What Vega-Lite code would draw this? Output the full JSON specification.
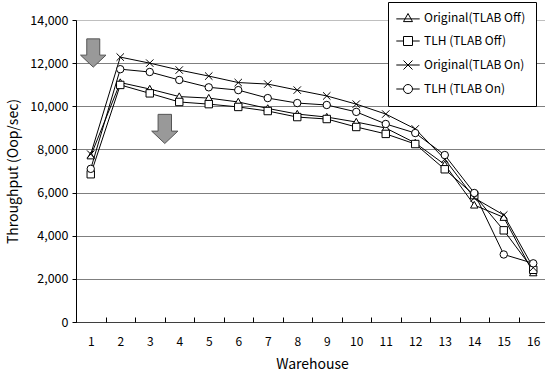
{
  "$schema": "https://vega.github.io/schema/vega-lite/v6.json",
  "width": 472,
  "height": 302,
  "autosize": {"type": "none"},
  "padding": {"left": 76, "top": 20, "right": 0, "bottom": 51},
  "background": "white",
  "config": {
    "view": {"stroke": null},
    "font": "Noto Sans CJK JP",
    "axis": {"labelFont": "Noto Sans CJK JP", "titleFont": "Noto Sans CJK JP", "labelColor": "black", "titleColor": "black", "titleFontWeight": "normal"}
  },
  "datasets": {
    "perf": [
      {"warehouse": 1, "series": "Original(TLAB Off)", "value": 7700},
      {"warehouse": 2, "series": "Original(TLAB Off)", "value": 11100},
      {"warehouse": 3, "series": "Original(TLAB Off)", "value": 10800},
      {"warehouse": 4, "series": "Original(TLAB Off)", "value": 10450},
      {"warehouse": 5, "series": "Original(TLAB Off)", "value": 10380},
      {"warehouse": 6, "series": "Original(TLAB Off)", "value": 10200},
      {"warehouse": 7, "series": "Original(TLAB Off)", "value": 9900},
      {"warehouse": 8, "series": "Original(TLAB Off)", "value": 9640},
      {"warehouse": 9, "series": "Original(TLAB Off)", "value": 9500},
      {"warehouse": 10, "series": "Original(TLAB Off)", "value": 9270},
      {"warehouse": 11, "series": "Original(TLAB Off)", "value": 8990},
      {"warehouse": 12, "series": "Original(TLAB Off)", "value": 8300},
      {"warehouse": 13, "series": "Original(TLAB Off)", "value": 7300},
      {"warehouse": 14, "series": "Original(TLAB Off)", "value": 5420},
      {"warehouse": 15, "series": "Original(TLAB Off)", "value": 4850},
      {"warehouse": 16, "series": "Original(TLAB Off)", "value": 2280},
      {"warehouse": 1, "series": "TLH (TLAB Off)", "value": 6850},
      {"warehouse": 2, "series": "TLH (TLAB Off)", "value": 10990},
      {"warehouse": 3, "series": "TLH (TLAB Off)", "value": 10600},
      {"warehouse": 4, "series": "TLH (TLAB Off)", "value": 10200},
      {"warehouse": 5, "series": "TLH (TLAB Off)", "value": 10100},
      {"warehouse": 6, "series": "TLH (TLAB Off)", "value": 9970},
      {"warehouse": 7, "series": "TLH (TLAB Off)", "value": 9780},
      {"warehouse": 8, "series": "TLH (TLAB Off)", "value": 9500},
      {"warehouse": 9, "series": "TLH (TLAB Off)", "value": 9410},
      {"warehouse": 10, "series": "TLH (TLAB Off)", "value": 9040},
      {"warehouse": 11, "series": "TLH (TLAB Off)", "value": 8720},
      {"warehouse": 12, "series": "TLH (TLAB Off)", "value": 8250},
      {"warehouse": 13, "series": "TLH (TLAB Off)", "value": 7080},
      {"warehouse": 14, "series": "TLH (TLAB Off)", "value": 5880},
      {"warehouse": 15, "series": "TLH (TLAB Off)", "value": 4250},
      {"warehouse": 16, "series": "TLH (TLAB Off)", "value": 2420},
      {"warehouse": 1, "series": "Original(TLAB On)", "value": 7780},
      {"warehouse": 2, "series": "Original(TLAB On)", "value": 12280},
      {"warehouse": 3, "series": "Original(TLAB On)", "value": 12000},
      {"warehouse": 4, "series": "Original(TLAB On)", "value": 11680},
      {"warehouse": 5, "series": "Original(TLAB On)", "value": 11400},
      {"warehouse": 6, "series": "Original(TLAB On)", "value": 11100},
      {"warehouse": 7, "series": "Original(TLAB On)", "value": 11030},
      {"warehouse": 8, "series": "Original(TLAB On)", "value": 10750},
      {"warehouse": 9, "series": "Original(TLAB On)", "value": 10480},
      {"warehouse": 10, "series": "Original(TLAB On)", "value": 10100},
      {"warehouse": 11, "series": "Original(TLAB On)", "value": 9640},
      {"warehouse": 12, "series": "Original(TLAB On)", "value": 8950},
      {"warehouse": 13, "series": "Original(TLAB On)", "value": 7550},
      {"warehouse": 14, "series": "Original(TLAB On)", "value": 5750},
      {"warehouse": 15, "series": "Original(TLAB On)", "value": 4960},
      {"warehouse": 16, "series": "Original(TLAB On)", "value": 2520},
      {"warehouse": 1, "series": "TLH (TLAB On)", "value": 7100},
      {"warehouse": 2, "series": "TLH (TLAB On)", "value": 11720},
      {"warehouse": 3, "series": "TLH (TLAB On)", "value": 11590},
      {"warehouse": 4, "series": "TLH (TLAB On)", "value": 11220},
      {"warehouse": 5, "series": "TLH (TLAB On)", "value": 10880},
      {"warehouse": 6, "series": "TLH (TLAB On)", "value": 10750},
      {"warehouse": 7, "series": "TLH (TLAB On)", "value": 10380},
      {"warehouse": 8, "series": "TLH (TLAB On)", "value": 10150},
      {"warehouse": 9, "series": "TLH (TLAB On)", "value": 10060},
      {"warehouse": 10, "series": "TLH (TLAB On)", "value": 9740},
      {"warehouse": 11, "series": "TLH (TLAB On)", "value": 9180},
      {"warehouse": 12, "series": "TLH (TLAB On)", "value": 8760},
      {"warehouse": 13, "series": "TLH (TLAB On)", "value": 7740},
      {"warehouse": 14, "series": "TLH (TLAB On)", "value": 5980},
      {"warehouse": 15, "series": "TLH (TLAB On)", "value": 3130},
      {"warehouse": 16, "series": "TLH (TLAB On)", "value": 2720}
    ]
  },
  "data": {"name": "perf"},
  "encoding": {
    "x": {
      "field": "warehouse", "type": "ordinal",
      "scale": {"type": "band", "domain": [1, 2, 3, 4, 5, 6, 7, 8, 9, 10, 11, 12, 13, 14, 15, 16], "paddingInner": 0, "paddingOuter": 0},
      "axis": {
        "title": "Warehouse", "titleFontSize": 14, "titlePadding": 10,
        "labelFontSize": 12, "labelPadding": 19, "labelAngle": 0,
        "tickBand": "extent", "tickSize": -5, "tickColor": "black",
        "domainColor": "black", "domainDash": [1, 1], "grid": false
      }
    },
    "y": {
      "field": "value", "type": "quantitative",
      "scale": {"domain": [0, 14000], "nice": false},
      "axis": {
        "values": [0, 2000, 4000, 6000, 8000, 10000, 12000, 14000],
        "labelExpr": "format(datum.value, ',.0f')", "title": "Throughput (Oop/sec)", "titleFontSize": 14,
        "labelFontSize": 12.5, "labelPadding": 4, "tickSize": 4, "tickColor": "black",
        "domainColor": "black", "grid": true, "gridColor": "#7f7f7f",
        "gridDash": {"condition": {"test": "datum.value === 14000", "value": [1, 1]}, "value": []},
        "titlePadding": 9
      }
    }
  },
  "layer": [
    {
      "mark": {"type": "line", "color": "black", "strokeWidth": 1},
      "encoding": {"detail": {"field": "series"}}
    },
    {
      "mark": {"type": "point", "filled": true, "fill": "white", "stroke": "black", "strokeWidth": 1, "opacity": 1, "size": 55},
      "encoding": {
        "shape": {
          "field": "series", "type": "nominal",
          "scale": {
            "domain": ["Original(TLAB Off)", "TLH (TLAB Off)", "Original(TLAB On)", "TLH (TLAB On)"],
            "range": ["M0,-1L1,0.8L-1,0.8Z", "square", "M-1,-1L1,1M-1,1L1,-1", "circle"]
          },
          "legend": null
        }
      }
    },
    {
      "transform": [{"filter": "datum.warehouse > 100"}],
      "mark": {"type": "point", "filled": false, "color": "black", "strokeWidth": 1, "opacity": 1},
      "encoding": {
        "shape": {
          "field": "series", "type": "nominal",
          "scale": {
            "domain": ["Original(TLAB Off)", "TLH (TLAB Off)", "Original(TLAB On)", "TLH (TLAB On)"],
            "range": [
              "M-2.6,0.2L2.6,0.2M0,-1L1,0.8L-1,0.8Z",
              "M-2.6,0L-1,0M1,0L2.6,0M-1,-1L1,-1L1,1L-1,1Z",
              "M-2.6,0L2.6,0M-1,-1L1,1M-1,1L1,-1",
              "M-2.6,0L-1,0M1,0L2.6,0M1,0A1,1,0,1,1,-1,0A1,1,0,1,1,1,0Z"
            ]
          },
          "legend": {
            "title": null, "orient": "none", "legendX": 312, "legendY": -18,
            "fillColor": "white", "strokeColor": "black", "padding": 10,
            "labelFont": "Noto Sans CJK JP", "labelFontSize": 12, "labelColor": "black",
            "symbolSize": 81, "symbolOffset": 4, "labelOffset": 10, "rowPadding": 10,
            "symbolStrokeColor": "black", "symbolStrokeWidth": 1, "symbolOpacity": 1
          }
        }
      }
    },
    {
      "data": {"values": [{"warehouse": 1, "value": 12470}]},
      "mark": {"type": "point", "filled": true, "fill": "#999999", "stroke": "#555555", "strokeWidth": 1, "opacity": 1, "size": 800,
        "shape": "M-0.46,-1L0.46,-1L0.46,0.15L0.9,0.15L0,1L-0.9,0.15L-0.46,0.15Z"},
      "encoding": {
        "x": {"field": "warehouse", "type": "ordinal", "bandPosition": 0.585},
        "y": {"field": "value", "type": "quantitative"}
      }
    },
    {
      "data": {"values": [{"warehouse": 3, "value": 8950}]},
      "mark": {"type": "point", "filled": true, "fill": "#999999", "stroke": "#555555", "strokeWidth": 1, "opacity": 1, "size": 850,
        "shape": "M-0.46,-1L0.46,-1L0.46,0.15L0.9,0.15L0,1L-0.9,0.15L-0.46,0.15Z"},
      "encoding": {
        "x": {"field": "warehouse", "type": "ordinal", "bandPosition": 1.01},
        "y": {"field": "value", "type": "quantitative"}
      }
    }
  ],
  "resolve": {"scale": {"shape": "independent"}}
}
